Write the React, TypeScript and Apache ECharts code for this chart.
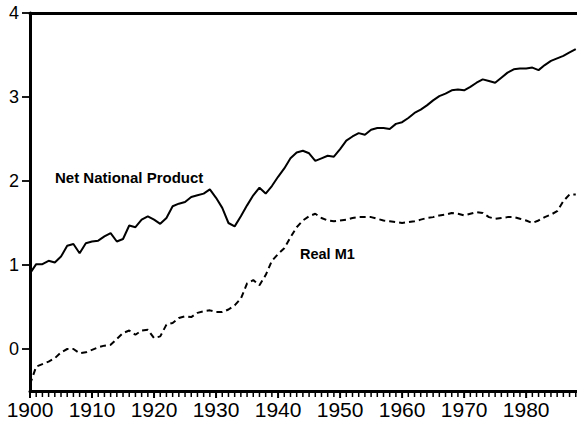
import React, { useEffect, useRef } from "react";
import * as echarts from "echarts";

const years: number[] = [];
for (let y = 1900; y <= 1988; y++) years.push(y);

const netNationalProduct = [
  0.90, 1.01, 1.01, 1.05, 1.03, 1.10, 1.23, 1.25, 1.14, 1.26,
  1.28, 1.29, 1.34, 1.38, 1.28, 1.31, 1.47, 1.45, 1.54, 1.58,
  1.54, 1.49, 1.56, 1.70, 1.73, 1.75, 1.81, 1.83, 1.85, 1.90,
  1.80, 1.68, 1.50, 1.46, 1.58, 1.71, 1.83, 1.92, 1.85, 1.94,
  2.05, 2.15, 2.27, 2.34, 2.36, 2.33, 2.24, 2.27, 2.30, 2.29,
  2.38, 2.48, 2.53, 2.57, 2.55, 2.61, 2.63, 2.63, 2.62, 2.68,
  2.70, 2.75, 2.81, 2.85, 2.90, 2.96, 3.01, 3.04, 3.08, 3.09,
  3.08, 3.12, 3.17, 3.21, 3.19, 3.17, 3.23, 3.29, 3.33, 3.34,
  3.34, 3.35, 3.32, 3.38, 3.43, 3.46, 3.49, 3.53, 3.57,
];

const realM1 = [
  -0.42, -0.21, -0.18, -0.15, -0.11, -0.04, 0.00, 0.00, -0.05, -0.04,
  -0.01, 0.02, 0.04, 0.05, 0.12, 0.19, 0.22, 0.17, 0.22, 0.23,
  0.13, 0.15, 0.29, 0.31, 0.37, 0.39, 0.38, 0.43, 0.45, 0.46,
  0.44, 0.44, 0.47, 0.52, 0.60, 0.78, 0.82, 0.76, 0.88, 1.05,
  1.13, 1.20, 1.33, 1.45, 1.53, 1.58, 1.61, 1.56, 1.53, 1.52,
  1.53, 1.54, 1.56, 1.57, 1.57, 1.57, 1.55, 1.53, 1.52, 1.51,
  1.50, 1.51, 1.52, 1.54, 1.56, 1.57, 1.59, 1.60, 1.62, 1.61,
  1.59, 1.61, 1.63, 1.62, 1.57, 1.55, 1.56, 1.57, 1.57, 1.55,
  1.53, 1.50, 1.53, 1.57, 1.60, 1.64, 1.76, 1.84, 1.84,
];

const yTicks = [0, 1, 2, 3, 4];
const seriesNames = ["Net National Product", "Real M1"];

const X_MIN = 1900;
const X_MAX = 1988.2;
const Y_MIN = -0.5;
const Y_MAX = 4;

const FONT = "'Liberation Sans', Arial, sans-serif";
const NARROW = "'Liberation Sans Narrow', 'Arial Narrow', 'Liberation Sans', sans-serif";

export default function App() {
  const ref = useRef<HTMLDivElement>(null);
  useEffect(() => {
    if (!ref.current) return;
    const chart = echarts.init(ref.current, undefined, { renderer: "svg" });
    chart.setOption({
      animation: false,
      backgroundColor: "#fff",
      grid: { left: 30, right: 0, top: 13, bottom: 35, outerBoundsMode: "none", containLabel: false },
      xAxis: [
        {
          type: "value",
          min: X_MIN,
          max: X_MAX,
          interval: 10,
          position: "bottom",
          axisLine: { show: true, onZero: false, lineStyle: { color: "#000", width: 3 } },
          axisTick: { show: false },
          splitLine: { show: false },
          axisLabel: {
            show: true,
            color: "#000",
            fontSize: 21,
            fontFamily: NARROW,
            margin: 8,
            formatter: (v: number) => (v % 10 === 0 ? String(v) : ""),
          },
        },
        {
          type: "value",
          min: X_MIN,
          max: X_MAX,
          position: "top",
          axisLine: { show: true, onZero: false, lineStyle: { color: "#000", width: 3 } },
          axisTick: { show: false },
          axisLabel: { show: false },
          splitLine: { show: false },
        },
      ],
      yAxis: {
        type: "value",
        min: Y_MIN,
        max: Y_MAX,
        axisLine: { show: true, onZero: false, lineStyle: { color: "#000", width: 3 } },
        axisTick: { show: false },
        axisLabel: {
          show: true,
          color: "#000",
          fontSize: 18,
          fontFamily: FONT,
          margin: 11,
          customValues: yTicks,
        },
        splitLine: { show: false },
      },
      series: [
        {
          name: seriesNames[0],
          type: "line",
          data: years.map((y, i) => [y, netNationalProduct[i]]),
          symbol: "none",
          lineStyle: { color: "#000", width: 2 },
        },
        {
          name: seriesNames[1],
          type: "line",
          data: years.map((y, i) => [y, realM1[i]]),
          symbol: "none",
          lineStyle: { color: "#000", width: 2, type: [6, 4] },
        },
        {
          name: "xTicks",
          type: "custom",
          clip: false,
          silent: true,
          z: 5,
          data: years.map((y) => [y, Y_MIN]),
          renderItem: (params: any, api: any) => {
            const yr = api.value(0);
            const p = api.coord([yr, api.value(1)]);
            const major = yr % 10 === 0;
            return {
              type: "line",
              shape: { x1: p[0], y1: p[1], x2: p[0], y2: p[1] + (major ? 7 : 6) },
              style: { stroke: "#000", lineWidth: major ? 2 : 1.5 },
            };
          },
        },
        {
          name: "yTicks",
          type: "custom",
          clip: false,
          silent: true,
          z: 5,
          data: yTicks.map((v) => [X_MIN, v]),
          renderItem: (params: any, api: any) => {
            const p = api.coord([api.value(0), api.value(1)]);
            return {
              type: "line",
              shape: { x1: p[0] - 8, y1: p[1], x2: p[0], y2: p[1] },
              style: { stroke: "#000", lineWidth: 1.8 },
            };
          },
        },
      ],
      graphic: [
        {
          type: "text",
          left: 55,
          top: 170,
          style: { text: seriesNames[0], fill: "#000", font: `bold 15px ${FONT}` },
        },
        {
          type: "text",
          left: 300,
          top: 246,
          style: { text: seriesNames[1], fill: "#000", font: `bold 14.5px ${FONT}` },
        },
      ],
    });
    return () => chart.dispose();
  }, []);
  return (
    <div
      ref={ref}
      style={{ position: "absolute", left: 0, top: 0, width: 577, height: 426 }}
    />
  );
}
